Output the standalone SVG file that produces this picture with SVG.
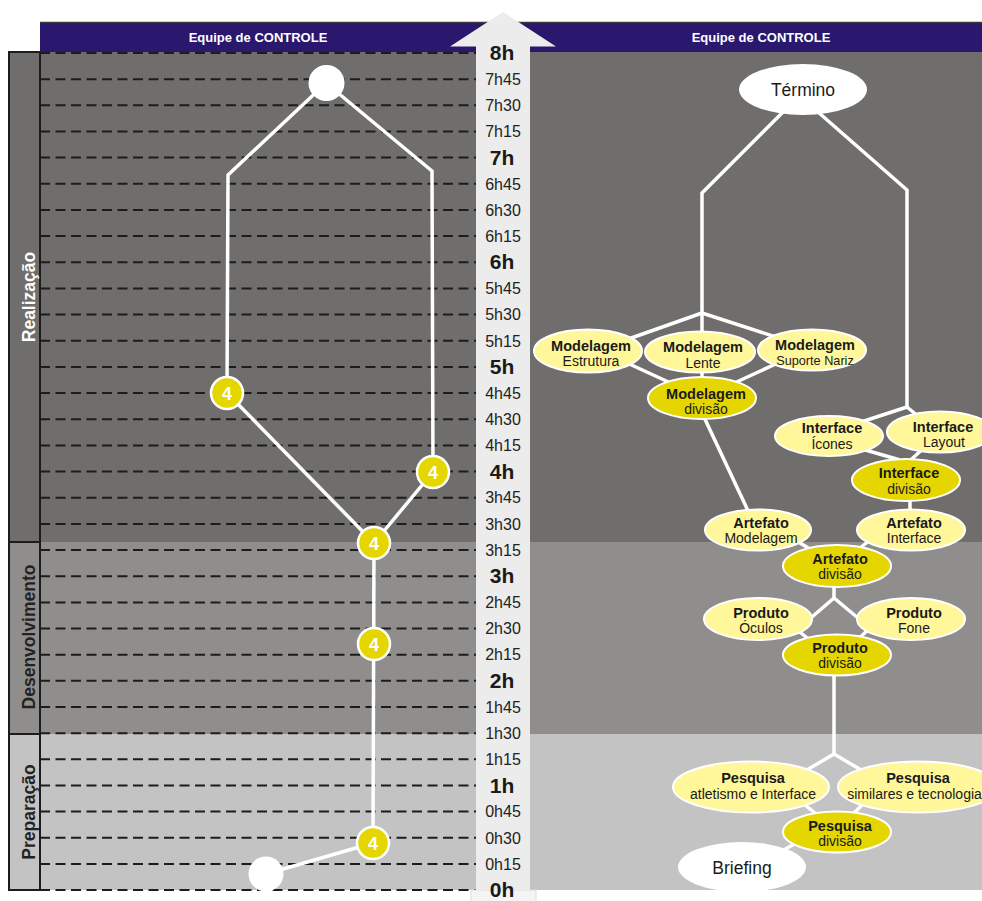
<svg xmlns="http://www.w3.org/2000/svg" width="982" height="901" viewBox="0 0 982 901">
  <style>
    text { font-family: "Liberation Sans", Arial, sans-serif; }
    .hdr { font-size: 13px; font-weight: bold; fill: #ffffff; text-anchor: middle; }
    .tq { font-size: 16px; fill: #222222; text-anchor: middle; }
    .th { font-size: 21px; font-weight: bold; fill: #1a1a1a; text-anchor: middle; }
    .grid { stroke: #1c1c1c; stroke-width: 2; stroke-dasharray: 10 5.5; fill: none; }
    .edge { stroke: #ffffff; stroke-width: 3.5; fill: none; stroke-linejoin: miter; }
    .phase { font-size: 17.5px; font-weight: bold; text-anchor: middle; }
    .lt { fill: #fff799; stroke: #ffffff; stroke-width: 2; }
    .dk { fill: #e6d600; stroke: #ffffff; stroke-width: 2; }
    .wh { fill: #ffffff; }
    .nb { font-size: 14.5px; font-weight: bold; fill: #1a1a1a; text-anchor: middle; }
    .nn { font-size: 14px; fill: #1a1a1a; text-anchor: middle; }
    .big { font-size: 17.5px; fill: #1a1a1a; text-anchor: middle; }
    .cnt { fill: #e6d600; stroke: #ffffff; stroke-width: 2.5; }
    .cnum { font-size: 18px; font-weight: bold; fill: #ffffff; text-anchor: middle; }
  </style>

  <!-- background bands: Realização / Desenvolvimento / Preparação -->
  <g id="bands">
    <rect x="40" y="52" width="436" height="490" fill="#6f6e6c"/>
    <rect x="40" y="542" width="436" height="192" fill="#8f8e8c"/>
    <rect x="40" y="734" width="436" height="156" fill="#c3c3c3"/>
    <rect x="530" y="52" width="452" height="490" fill="#6f6e6c"/>
    <rect x="530" y="542" width="452" height="192" fill="#8f8e8c"/>
    <rect x="530" y="734" width="452" height="156" fill="#c3c3c3"/>
  </g>

  <!-- phase labels column -->
  <g id="phases">
    <rect x="9" y="52" width="31" height="490" fill="#6f6e6c" stroke="#1c1c1c" stroke-width="2"/>
    <rect x="9" y="542" width="31" height="192" fill="#8f8e8c" stroke="#1c1c1c" stroke-width="2"/>
    <rect x="9" y="734" width="31" height="156" fill="#c3c3c3" stroke="#1c1c1c" stroke-width="2"/>
    <text class="phase" fill="#ffffff" transform="translate(35 297) rotate(-90)">Realização</text>
    <text class="phase" fill="#222222" transform="translate(35 637) rotate(-90)">Desenvolvimento</text>
    <text class="phase" fill="#222222" transform="translate(35 812) rotate(-90)">Preparação</text>
  </g>

  <!-- quarter-hour grid -->
  <g id="grid">
    <line class="grid" x1="40" y1="53.0" x2="476" y2="53.0"/>
    <line class="grid" x1="40" y1="79.2" x2="476" y2="79.2"/>
    <line class="grid" x1="40" y1="105.3" x2="476" y2="105.3"/>
    <line class="grid" x1="40" y1="131.5" x2="476" y2="131.5"/>
    <line class="grid" x1="40" y1="157.6" x2="476" y2="157.6"/>
    <line class="grid" x1="40" y1="183.8" x2="476" y2="183.8"/>
    <line class="grid" x1="40" y1="210.0" x2="476" y2="210.0"/>
    <line class="grid" x1="40" y1="236.1" x2="476" y2="236.1"/>
    <line class="grid" x1="40" y1="262.3" x2="476" y2="262.3"/>
    <line class="grid" x1="40" y1="288.4" x2="476" y2="288.4"/>
    <line class="grid" x1="40" y1="314.6" x2="476" y2="314.6"/>
    <line class="grid" x1="40" y1="340.8" x2="476" y2="340.8"/>
    <line class="grid" x1="40" y1="366.9" x2="476" y2="366.9"/>
    <line class="grid" x1="40" y1="393.1" x2="476" y2="393.1"/>
    <line class="grid" x1="40" y1="419.2" x2="476" y2="419.2"/>
    <line class="grid" x1="40" y1="445.4" x2="476" y2="445.4"/>
    <line class="grid" x1="40" y1="471.6" x2="476" y2="471.6"/>
    <line class="grid" x1="40" y1="497.7" x2="476" y2="497.7"/>
    <line class="grid" x1="40" y1="523.9" x2="476" y2="523.9"/>
    <line class="grid" x1="40" y1="550.0" x2="476" y2="550.0"/>
    <line class="grid" x1="40" y1="576.2" x2="476" y2="576.2"/>
    <line class="grid" x1="40" y1="602.4" x2="476" y2="602.4"/>
    <line class="grid" x1="40" y1="628.5" x2="476" y2="628.5"/>
    <line class="grid" x1="40" y1="654.7" x2="476" y2="654.7"/>
    <line class="grid" x1="40" y1="680.8" x2="476" y2="680.8"/>
    <line class="grid" x1="40" y1="707.0" x2="476" y2="707.0"/>
    <line class="grid" x1="40" y1="733.2" x2="476" y2="733.2"/>
    <line class="grid" x1="40" y1="759.3" x2="476" y2="759.3"/>
    <line class="grid" x1="40" y1="785.5" x2="476" y2="785.5"/>
    <line class="grid" x1="40" y1="811.6" x2="476" y2="811.6"/>
    <line class="grid" x1="40" y1="837.8" x2="476" y2="837.8"/>
    <line class="grid" x1="40" y1="864.0" x2="476" y2="864.0"/>
    <line class="grid" x1="40" y1="890.1" x2="476" y2="890.1"/>
  </g>

  <!-- team headers -->
  <g id="header">
    <rect x="40" y="22" width="942" height="30" fill="#2a176e"/>
    <line x1="40" y1="22.5" x2="982" y2="22.5" stroke="#3a3a3a" stroke-width="1.5"/>
    <text class="hdr" x="258" y="41.5">Equipe de CONTROLE</text>
    <text class="hdr" x="761" y="41.5">Equipe de CONTROLE</text>
  </g>

  <!-- time arrow -->
  <g id="time-axis">
    <rect x="471" y="890" width="65" height="14" fill="#f4f4f4" stroke="#dddddd" stroke-width="1"/>
    <polygon points="450,46.5 503,12 556,46.5 530,46.5 530,890 476,890 476,46.5" fill="#ececec"/>
    <text class="th" x="502" y="60">8h</text>
    <text class="tq" x="503" y="84.9">7h45</text>
    <text class="tq" x="503" y="111.0">7h30</text>
    <text class="tq" x="503" y="137.2">7h15</text>
    <text class="th" x="502" y="164.6">7h</text>
    <text class="tq" x="503" y="189.5">6h45</text>
    <text class="tq" x="503" y="215.7">6h30</text>
    <text class="tq" x="503" y="241.8">6h15</text>
    <text class="th" x="502" y="269.3">6h</text>
    <text class="tq" x="503" y="294.1">5h45</text>
    <text class="tq" x="503" y="320.3">5h30</text>
    <text class="tq" x="503" y="346.5">5h15</text>
    <text class="th" x="502" y="373.9">5h</text>
    <text class="tq" x="503" y="398.8">4h45</text>
    <text class="tq" x="503" y="424.9">4h30</text>
    <text class="tq" x="503" y="451.1">4h15</text>
    <text class="th" x="502" y="478.6">4h</text>
    <text class="tq" x="503" y="503.4">3h45</text>
    <text class="tq" x="503" y="529.6">3h30</text>
    <text class="tq" x="503" y="555.7">3h15</text>
    <text class="th" x="502" y="583.2">3h</text>
    <text class="tq" x="503" y="608.1">2h45</text>
    <text class="tq" x="503" y="634.2">2h30</text>
    <text class="tq" x="503" y="660.4">2h15</text>
    <text class="th" x="502" y="687.8">2h</text>
    <text class="tq" x="503" y="712.7">1h45</text>
    <text class="tq" x="503" y="738.9">1h30</text>
    <text class="tq" x="503" y="765.0">1h15</text>
    <text class="th" x="502" y="792.5">1h</text>
    <text class="tq" x="503" y="817.3">0h45</text>
    <text class="tq" x="503" y="843.5">0h30</text>
    <text class="tq" x="503" y="869.7">0h15</text>
    <text class="th" x="502" y="897.1">0h</text>
  </g>

  <!-- connectors -->
  <g id="connectors">
    <!-- left: team time line -->
    <polyline class="edge" points="227,393 228,175 326,83 432,171 433,472"/>
    <line class="edge" x1="227" y1="393" x2="374" y2="543"/>
    <line class="edge" x1="433" y1="472" x2="374" y2="543"/>
    <line class="edge" x1="374" y1="543" x2="373" y2="843"/>
    <line class="edge" x1="373" y1="843" x2="266" y2="874"/>

    <!-- right: task tree -->
    <polyline class="edge" points="783,112 702,193 702,313"/>
    <polyline class="edge" points="818,112 907,190 907,407"/>
    <line class="edge" x1="702" y1="313" x2="620" y2="342"/>
    <line class="edge" x1="702" y1="313" x2="702" y2="385"/>
    <line class="edge" x1="702" y1="313" x2="785" y2="340"/>
    <line class="edge" x1="625" y1="362" x2="675" y2="385"/>
    <line class="edge" x1="780" y1="362" x2="730" y2="385"/>
    <line class="edge" x1="703" y1="415" x2="750" y2="515"/>
    <line class="edge" x1="907" y1="407" x2="855" y2="424"/>
    <line class="edge" x1="907" y1="407" x2="925" y2="422"/>
    <line class="edge" x1="855" y1="447" x2="900" y2="460"/>
    <line class="edge" x1="925" y1="447" x2="905" y2="465"/>
    <line class="edge" x1="910" y1="495" x2="910" y2="515"/>
    <line class="edge" x1="795" y1="540" x2="815" y2="552"/>
    <line class="edge" x1="870" y1="540" x2="855" y2="552"/>
    <polyline class="edge" points="805,623 834,598 864,623"/>
    <line class="edge" x1="834" y1="580" x2="834" y2="598"/>
    <line class="edge" x1="795" y1="628" x2="812" y2="642"/>
    <line class="edge" x1="870" y1="628" x2="855" y2="642"/>
    <line class="edge" x1="834" y1="670" x2="834" y2="754"/>
    <polyline class="edge" points="800,774 834,754 868,774"/>
    <line class="edge" x1="805" y1="805" x2="820" y2="817"/>
    <line class="edge" x1="862" y1="805" x2="850" y2="817"/>
    <line class="edge" x1="780" y1="852" x2="805" y2="838"/>
  </g>

  <!-- left: team checkpoints -->
  <g id="ctrl-end"><circle class="wh" cx="326.5" cy="83" r="18"/></g>
  <g id="ctrl-start"><circle class="wh" cx="266" cy="874" r="17.5"/></g>
  <g id="ctrl-a"><circle class="cnt" cx="227" cy="393" r="16"/><text class="cnum" x="227" y="399.5">4</text></g>
  <g id="ctrl-b"><circle class="cnt" cx="433" cy="472" r="16"/><text class="cnum" x="433" y="478.5">4</text></g>
  <g id="ctrl-c"><circle class="cnt" cx="374" cy="543" r="16"/><text class="cnum" x="374" y="549.5">4</text></g>
  <g id="ctrl-d"><circle class="cnt" cx="374" cy="644" r="16"/><text class="cnum" x="374" y="650.5">4</text></g>
  <g id="ctrl-e"><circle class="cnt" cx="373" cy="843" r="16"/><text class="cnum" x="373" y="849.5">4</text></g>

  <!-- right: task nodes -->
  <g id="termino">
    <ellipse class="wh" cx="803" cy="89.5" rx="64" ry="25.5"/>
    <text class="big" x="803" y="96">Término</text>
  </g>
  <g id="mod-estrutura">
    <ellipse class="lt" cx="588" cy="351" rx="54" ry="21.5"/>
    <text class="nb" x="591" y="351">Modelagem</text>
    <text class="nn" x="591" y="366">Estrutura</text>
  </g>
  <g id="mod-lente">
    <ellipse class="lt" cx="700" cy="352" rx="55" ry="20.5"/>
    <text class="nb" x="703" y="352">Modelagem</text>
    <text class="nn" x="703" y="368">Lente</text>
  </g>
  <g id="mod-suporte">
    <ellipse class="lt" cx="812" cy="350" rx="54" ry="20.5"/>
    <text class="nb" x="815" y="350">Modelagem</text>
    <text class="nn" x="815" y="364.5" style="font-size:12.7px">Suporte Nariz</text>
  </g>
  <g id="mod-divisao">
    <ellipse class="dk" cx="702" cy="398" rx="54" ry="21"/>
    <text class="nb" x="706" y="399">Modelagem</text>
    <text class="nn" x="706" y="414">divisão</text>
  </g>
  <g id="int-icones">
    <ellipse class="lt" cx="829" cy="436" rx="54" ry="20"/>
    <text class="nb" x="832" y="433">Interface</text>
    <text class="nn" x="832" y="449">Ícones</text>
  </g>
  <g id="int-layout">
    <ellipse class="lt" cx="940" cy="432" rx="53" ry="20.5"/>
    <text class="nb" x="943" y="432">Interface</text>
    <text class="nn" x="944" y="447">Layout</text>
  </g>
  <g id="int-divisao">
    <ellipse class="dk" cx="906" cy="480" rx="54" ry="21"/>
    <text class="nb" x="909" y="478">Interface</text>
    <text class="nn" x="909" y="494">divisão</text>
  </g>
  <g id="art-modelagem">
    <ellipse class="lt" cx="758" cy="530" rx="53" ry="20.5"/>
    <text class="nb" x="761" y="528">Artefato</text>
    <text class="nn" x="761" y="543">Modelagem</text>
  </g>
  <g id="art-interface">
    <ellipse class="lt" cx="911" cy="530" rx="54" ry="20.5"/>
    <text class="nb" x="914" y="528">Artefato</text>
    <text class="nn" x="914" y="543">Interface</text>
  </g>
  <g id="art-divisao">
    <ellipse class="dk" cx="837" cy="566" rx="54" ry="21"/>
    <text class="nb" x="840" y="564">Artefato</text>
    <text class="nn" x="840" y="579">divisão</text>
  </g>
  <g id="prod-oculos">
    <ellipse class="lt" cx="758" cy="619" rx="54" ry="21"/>
    <text class="nb" x="761" y="618">Produto</text>
    <text class="nn" x="761" y="633">Óculos</text>
  </g>
  <g id="prod-fone">
    <ellipse class="lt" cx="911" cy="619" rx="54" ry="21"/>
    <text class="nb" x="914" y="618">Produto</text>
    <text class="nn" x="914" y="633">Fone</text>
  </g>
  <g id="prod-divisao">
    <ellipse class="dk" cx="837" cy="655" rx="54" ry="20.5"/>
    <text class="nb" x="840" y="653">Produto</text>
    <text class="nn" x="840" y="668">divisão</text>
  </g>
  <g id="pesq-atletismo">
    <ellipse class="lt" cx="751" cy="787" rx="78" ry="25.5"/>
    <text class="nb" x="753" y="783">Pesquisa</text>
    <text class="nn" x="753" y="799">atletismo e Interface</text>
  </g>
  <g id="pesq-similares">
    <ellipse class="lt" cx="918" cy="787" rx="80" ry="25.5"/>
    <text class="nb" x="918" y="783">Pesquisa</text>
    <text class="nn" x="918" y="799">similares e tecnologias</text>
  </g>
  <g id="pesq-divisao">
    <ellipse class="dk" cx="837" cy="832" rx="54" ry="20.5"/>
    <text class="nb" x="840" y="831">Pesquisa</text>
    <text class="nn" x="840" y="846">divisão</text>
  </g>
  <g id="briefing">
    <ellipse class="wh" cx="742" cy="867" rx="64" ry="25"/>
    <text class="big" x="742" y="873.5">Briefing</text>
  </g>
</svg>
